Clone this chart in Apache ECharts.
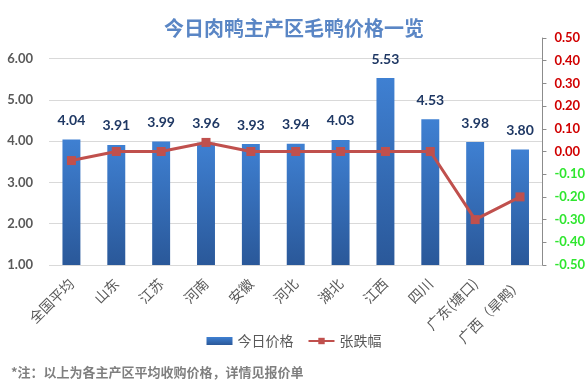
<!DOCTYPE html>
<html><head><meta charset="utf-8">
<script src="https://cdn.jsdelivr.net/npm/echarts@6/dist/echarts.min.js"></script>
<style>html,body{margin:0;padding:0;background:#fff}#c{width:588px;height:390px}</style>
</head><body><div id="c"></div>
<script>
var categories = ['全国平均','山东','江苏','河南','安徽','河北','湖北','江西','四川','广东(塘口)','广西（旱鸭）'];
var prices = [4.04,3.91,3.99,3.96,3.93,3.94,4.03,5.53,4.53,3.98,3.80];
var changes = [-0.04,0,0,0.04,0,0,0,0,0,-0.30,-0.20];
var titleText = '今日肉鸭主产区毛鸭价格一览';
var noteText = '*注：以上为各主产区平均收购价格，详情见报价单';
var F = '"Noto Sans CJK SC", "Noto Sans", sans-serif';
var N = 'Lato, "Noto Sans", sans-serif';
var chart = echarts.init(document.getElementById('c'), null, {renderer:'canvas'});
chart.setOption({
  animation:false,
  backgroundColor:'#fff',
  title:{text:titleText,left:'center',top:13,textStyle:{fontFamily:F,fontSize:20,fontWeight:'bold',color:'#5a86c5'}},
  graphic:[{type:'text',left:11,top:366,style:{text:noteText,fontFamily:F,fontSize:13,fontWeight:'bold',fill:'#7f7f7f'}}],
  legend:{top:329,left:'center',itemGap:14,itemWidth:26,itemHeight:8,
    textStyle:{fontFamily:F,fontSize:14,color:'#595959'},
    data:[{name:'今日价格',icon:'rect'},{name:'张跌幅'}]},
  grid:{left:49,right:40,top:38,bottom:125},
  xAxis:{type:'category',data:categories,
    axisLine:{show:false},axisTick:{show:false},
    axisLabel:{interval:0,rotate:45,margin:16,fontFamily:F,fontSize:14,color:'#595959'}},
  yAxis:[
    {type:'value',min:1,max:6.5,interval:1,position:'left',
     axisLine:{show:false},axisTick:{show:false},
     axisLabel:{showMaxLabel:false,margin:16,fontFamily:N,fontSize:13,fontWeight:'bold',color:'#595959',
       formatter:function(v){return v>6.01?'':v.toFixed(2);}},
     splitLine:{showMaxLine:false,lineStyle:{color:'#d9d9d9',width:1}}},
    {type:'value',min:-0.5,max:0.5,interval:0.1,position:'right',
     axisLine:{show:true,lineStyle:{color:'#8c8c8c'}},
     axisTick:{show:true,inside:false,length:4,lineStyle:{color:'#8c8c8c'}},
     splitLine:{show:false},
     axisLabel:{margin:12,fontFamily:N,fontSize:13,fontWeight:'bold',
       formatter:function(v){var s=(Math.round(v*100)/100).toFixed(2); if(s==='-0.00')s='0.00'; return v< -0.001?'{g|'+s+'}':'{r|'+s+'}';},
       rich:{r:{color:'#d00000',fontFamily:N,fontSize:13,fontWeight:'bold'},g:{color:'#2ee62e',fontFamily:N,fontSize:13,fontWeight:'bold'}}}}
  ],
  series:[
    {name:'今日价格',type:'bar',yAxisIndex:0,data:prices,barWidth:'40%',
     itemStyle:{color:new echarts.graphic.LinearGradient(0,0,0,1,[{offset:0,color:'#3f80d2'},{offset:1,color:'#2a5899'}])},
     label:{show:true,position:'top',distance:12,fontFamily:N,fontSize:14,fontWeight:'bold',color:'#1f3864',
       formatter:function(p){return p.value.toFixed(2);}}},
    {name:'张跌幅',type:'line',yAxisIndex:1,data:changes,symbol:'rect',symbolSize:9,
     lineStyle:{color:'#c0504d',width:3},itemStyle:{color:'#c0504d'}}
  ]
});
</script></body></html>
